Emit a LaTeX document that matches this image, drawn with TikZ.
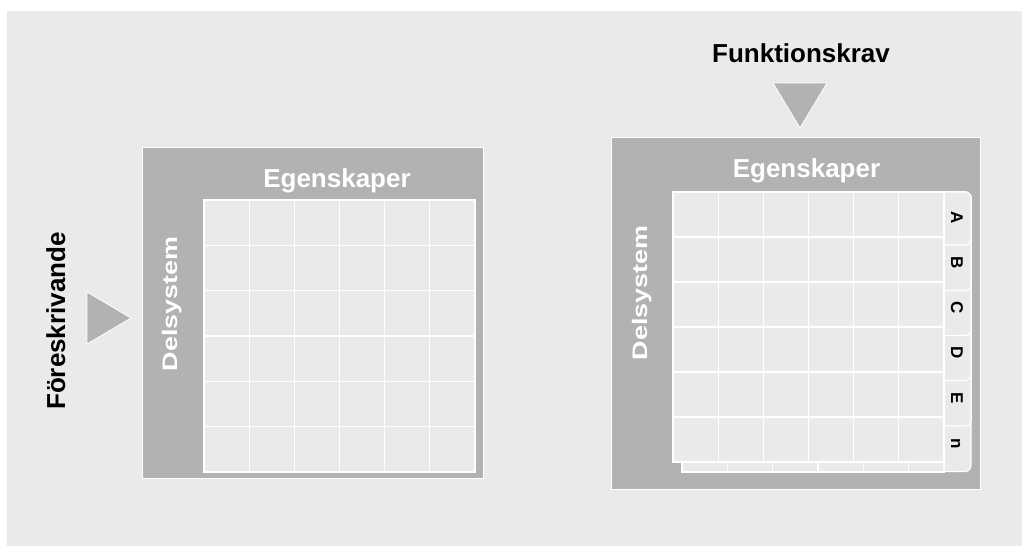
\documentclass[tikz,border=0pt]{standalone}
\usepackage{fontspec}
\setmainfont{Liberation Sans}
\definecolor{panel}{RGB}{178,178,178}
\definecolor{paper}{RGB}{234,234,234}
\begin{document}
\begin{tikzpicture}[x=1pt,y=-1pt,
  bigtext/.style={font=\bfseries\fontsize{26}{30}\selectfont, inner sep=0pt, anchor=base},
  headtext/.style={bigtext, text=white},
  sidetext/.style={font=\bfseries\fontsize{21}{25}\selectfont, text=white, inner sep=0pt, anchor=base, rotate=90},
  tabtext/.style={font=\bfseries\fontsize{17}{20}\selectfont, inner sep=0pt, anchor=base, rotate=-90},
  panelbox/.style={fill=panel, draw=white, line width=1pt},
  sheet/.style={fill=paper, draw=white, line width=1.1pt},
  gridline/.style={draw=white, line width=1.1pt},
  pointer/.style={fill=panel, draw=white, line width=0.8pt, line join=miter}]
\useasboundingbox (0,0) rectangle (1022,546);
\fill[paper] (7,11) rectangle (1022,546);

% ---- left matrix ----
\filldraw[panelbox] (142,147) rectangle (483,478);
\filldraw[sheet] (204,200) rectangle (475,472);
\foreach \i in {1,...,5} {
  \draw[gridline] ({204+\i*45.1667},200) -- ({204+\i*45.1667},472);
  \draw[gridline] (204,{200+\i*45.3333}) -- (475,{200+\i*45.3333});
}
\node[headtext] (egL) at (337,187) {Egenskaper};
\node[sidetext] (delL) at (177,304) {\scalebox{1.28}[1]{Delsystem}};

% input marker on the left
\filldraw[pointer] (87,292) -- (131,318) -- (87,344) -- cycle;
\node[bigtext, rotate=90] (fore) at (65,321) {Föreskrivande};

% ---- right matrix ----
\filldraw[panelbox] (611,137) rectangle (980,489);
% sheet lying behind the front grid
\filldraw[sheet] (682,440) rectangle (944,472);
\foreach \xx in {727.7,772.8,818,863.2,908.3}
  \draw[gridline] (\xx,440) -- (\xx,472);
% stacked index tabs, from the back one to the front one
\foreach \b in {471.5,426,380.5,335.5,290.5,245}
  \filldraw[sheet] (944,192) [rounded corners=6pt] -- (971,192) -- (971,\b) [sharp corners] -- (944,\b);
% front grid
\filldraw[sheet] (673,192) rectangle (944,462);
\foreach \i in {1,...,5} {
  \draw[gridline] ({673+\i*45.1667},192) -- ({673+\i*45.1667},462);
  \draw[gridline] (673,{192+\i*45}) -- (944,{192+\i*45});
}
\draw[gridline] (944,462) -- (944,472);
\node[headtext] (egR) at (806.5,177) {Egenskaper};
\node[sidetext] (delR) at (647,293) {\scalebox{1.28}[1]{Delsystem}};
\node[tabtext] (tA) at (951,218) {A};
\node[tabtext] (tB) at (951,263) {B};
\node[tabtext] (tC) at (951,308) {C};
\node[tabtext] (tD) at (951,353) {D};
\node[tabtext] (tE) at (951,398) {E};
\node[tabtext] (tn) at (951,443.5) {n};

% input marker on top
\filldraw[pointer] (773,83) -- (827,83) -- (800,128) -- cycle;
\node[bigtext] (funk) at (801,62) {Funktionskrav};
\end{tikzpicture}
\end{document}
